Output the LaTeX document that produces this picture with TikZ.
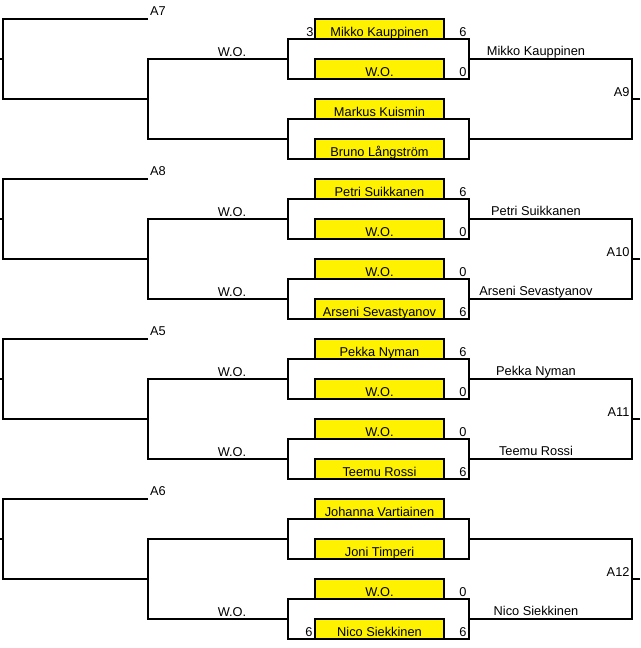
\documentclass[tikz,border=0pt]{standalone}
\usepackage{fontspec}
\setmainfont{Liberation Sans}
\usetikzlibrary{positioning, calc}

\begin{document}
\begin{tikzpicture}[x=1pt, y=-1pt, line width=2pt,
        every node/.style={font=\fontsize{12.8}{14}\selectfont, inner sep=0pt, outer sep=0pt},
        player/.style={draw, fill=yellow, minimum width=129pt, minimum height=20pt,
                       text height=16.5pt, text depth=1.5pt},
        match/.style={draw, minimum width=181pt, minimum height=40pt},
        lbl/.style={anchor=base}]

        \useasboundingbox (0,0) rectangle (640,648);

        % 1. Block A7 -> A9
        \begin{scope}
        \node[player] (p1a) at (379.5,29) {Mikko Kauppinen};
        \node[player] (p1b) at (379.5,69) {W.O.};
        \node[player] (p1c) at (379.5,109) {Markus Kuismin};
        \node[player] (p1d) at (379.5,149) {Bruno Långström};
        \node[match] (m1a) at (378.5,59) {};
        \node[match] (m1b) at (378.5,139) {};
        \coordinate (in1) at (0,59);
        \coordinate (top1) at (148,19);
        \coordinate (mid1) at (148,99);
        \coordinate (j1) at (632,99);
        \draw (in1) -- ++(3,0);
        \draw (top1) -| ($(in1)+(3,0)$) |- (mid1);
        \draw (m1a.west) -| (mid1) |- (m1b.west);
        \draw (m1a.east) -| (j1) |- (m1b.east);
        \draw (j1) -- ++(8,0);
        \node[lbl, anchor=base west] (a7) at (150,15.7) {A7};
        \node[lbl] (wo1a) at (232,56) {W.O.};
        \node[lbl] (w1a) at (536,55.5) {Mikko Kauppinen};
        \node[lbl, anchor=base east] (a9) at (629.5,96) {A9};
        \node[lbl] at (310,36) {3};
        \node[lbl] at (463,36) {6};
        \node[lbl] at (463,76) {0};
        \end{scope}

        % 2. Block A8 -> A10
        \begin{scope}[shift={(0,160)}]
        \node[player] (p2a) at (379.5,29) {Petri Suikkanen};
        \node[player] (p2b) at (379.5,69) {W.O.};
        \node[player] (p2c) at (379.5,109) {W.O.};
        \node[player] (p2d) at (379.5,149) {Arseni Sevastyanov};
        \node[match] (m2a) at (378.5,59) {};
        \node[match] (m2b) at (378.5,139) {};
        \coordinate (in2) at (0,59);
        \coordinate (top2) at (148,19);
        \coordinate (mid2) at (148,99);
        \coordinate (j2) at (632,99);
        \draw (in2) -- ++(3,0);
        \draw (top2) -| ($(in2)+(3,0)$) |- (mid2);
        \draw (m2a.west) -| (mid2) |- (m2b.west);
        \draw (m2a.east) -| (j2) |- (m2b.east);
        \draw (j2) -- ++(8,0);
        \node[lbl, anchor=base west] (a8) at (150,15.7) {A8};
        \node[lbl] (wo2a) at (232,56) {W.O.};
        \node[lbl] (wo2b) at (232,136) {W.O.};
        \node[lbl] (w2a) at (536,55.5) {Petri Suikkanen};
        \node[lbl] (w2b) at (536,135.5) {Arseni Sevastyanov};
        \node[lbl, anchor=base east] (a10) at (629.5,96) {A10};
        \node[lbl] at (463,36) {6};
        \node[lbl] at (463,76) {0};
        \node[lbl] at (463,116) {0};
        \node[lbl] at (463,156) {6};
        \end{scope}

        % 3. Block A5 -> A11
        \begin{scope}[shift={(0,320)}]
        \node[player] (p3a) at (379.5,29) {Pekka Nyman};
        \node[player] (p3b) at (379.5,69) {W.O.};
        \node[player] (p3c) at (379.5,109) {W.O.};
        \node[player] (p3d) at (379.5,149) {Teemu Rossi};
        \node[match] (m3a) at (378.5,59) {};
        \node[match] (m3b) at (378.5,139) {};
        \coordinate (in3) at (0,59);
        \coordinate (top3) at (148,19);
        \coordinate (mid3) at (148,99);
        \coordinate (j3) at (632,99);
        \draw (in3) -- ++(3,0);
        \draw (top3) -| ($(in3)+(3,0)$) |- (mid3);
        \draw (m3a.west) -| (mid3) |- (m3b.west);
        \draw (m3a.east) -| (j3) |- (m3b.east);
        \draw (j3) -- ++(8,0);
        \node[lbl, anchor=base west] (a5) at (150,15.7) {A5};
        \node[lbl] (wo3a) at (232,56) {W.O.};
        \node[lbl] (wo3b) at (232,136) {W.O.};
        \node[lbl] (w3a) at (536,55.5) {Pekka Nyman};
        \node[lbl] (w3b) at (536,135.5) {Teemu Rossi};
        \node[lbl, anchor=base east] (a11) at (629.5,96) {A11};
        \node[lbl] at (463,36) {6};
        \node[lbl] at (463,76) {0};
        \node[lbl] at (463,116) {0};
        \node[lbl] at (463,156) {6};
        \end{scope}

        % 4. Block A6 -> A12
        \begin{scope}[shift={(0,480)}]
        \node[player] (p4a) at (379.5,29) {Johanna Vartiainen};
        \node[player] (p4b) at (379.5,69) {Joni Timperi};
        \node[player] (p4c) at (379.5,109) {W.O.};
        \node[player] (p4d) at (379.5,149) {Nico Siekkinen};
        \node[match] (m4a) at (378.5,59) {};
        \node[match] (m4b) at (378.5,139) {};
        \coordinate (in4) at (0,59);
        \coordinate (top4) at (148,19);
        \coordinate (mid4) at (148,99);
        \coordinate (j4) at (632,99);
        \draw (in4) -- ++(3,0);
        \draw (top4) -| ($(in4)+(3,0)$) |- (mid4);
        \draw (m4a.west) -| (mid4) |- (m4b.west);
        \draw (m4a.east) -| (j4) |- (m4b.east);
        \draw (j4) -- ++(8,0);
        \node[lbl, anchor=base west] (a6) at (150,15.7) {A6};
        \node[lbl] (wo4b) at (232,136) {W.O.};
        \node[lbl] (w4b) at (536,135.5) {Nico Siekkinen};
        \node[lbl, anchor=base east] (a12) at (629.5,96) {A12};
        \node[lbl] at (463,116) {0};
        \node[lbl] at (309,156) {6};
        \node[lbl] at (463,156) {6};
        \end{scope}

\end{tikzpicture}
\end{document}
